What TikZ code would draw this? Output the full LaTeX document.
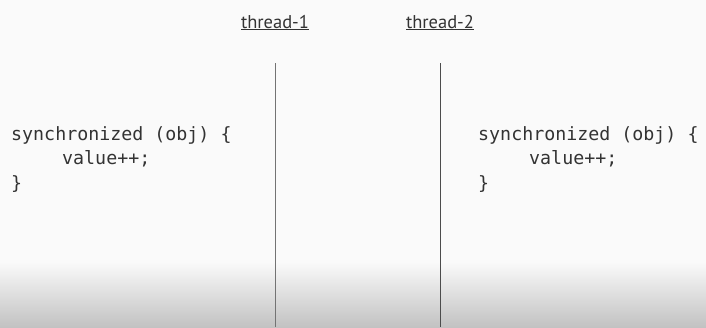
\documentclass[tikz,border=0pt]{standalone}
\usepackage{fontspec}
\setmainfont{PT Sans}
\setmonofont{DejaVu Sans Mono}
\usetikzlibrary{positioning}
\definecolor{bgwhite}{HTML}{FAFAFA}
\definecolor{floorgray}{HTML}{C2C2C2}
\definecolor{ink}{HTML}{333333}
\tikzset{
  threadlabel/.style={font=\fontsize{18.5}{20}\selectfont, text=ink, inner sep=0pt, anchor=base},
  timeline/.style={draw=black!55, line width=1pt},
  codeblock/.style={font=\fontsize{18.3}{24.5}\ttfamily\selectfont, text=ink, align=left, inner sep=0pt, anchor=north west}
}
\begin{document}
\begin{tikzpicture}[x=1pt, y=-1pt]
    % Background and floor shadow
    \fill [bgwhite] (0,0) rectangle (706,327);
    \shade [top color=bgwhite, bottom color=floorgray] (0,262) rectangle (706,327);
    \useasboundingbox (0,0) rectangle (706,327);

    % Thread labels
    \node [threadlabel] (t1) at (275,28) {\underline{thread-1}};
    \node [threadlabel] (t2) at (440,28) {\underline{thread-2}};

    % Thread timelines
    \coordinate (t1top) at (275,63);
    \coordinate (t1bot) at (275,327);
    \coordinate (t2top) at (440,63);
    \coordinate (t2bot) at (440,327);
    \draw [timeline] (t1top) -- (t1bot);
    \draw [timeline, draw=black!70] (t2top) -- (t2bot);

    % Synchronized blocks
    \node [codeblock] (code1) at (11,126) {synchronized (obj) \{\\\hspace*{51pt}value++;\\\}};
    \node [codeblock] (code2) at (478,126) {synchronized (obj) \{\\\hspace*{51pt}value++;\\\}};
\end{tikzpicture}
\end{document}
